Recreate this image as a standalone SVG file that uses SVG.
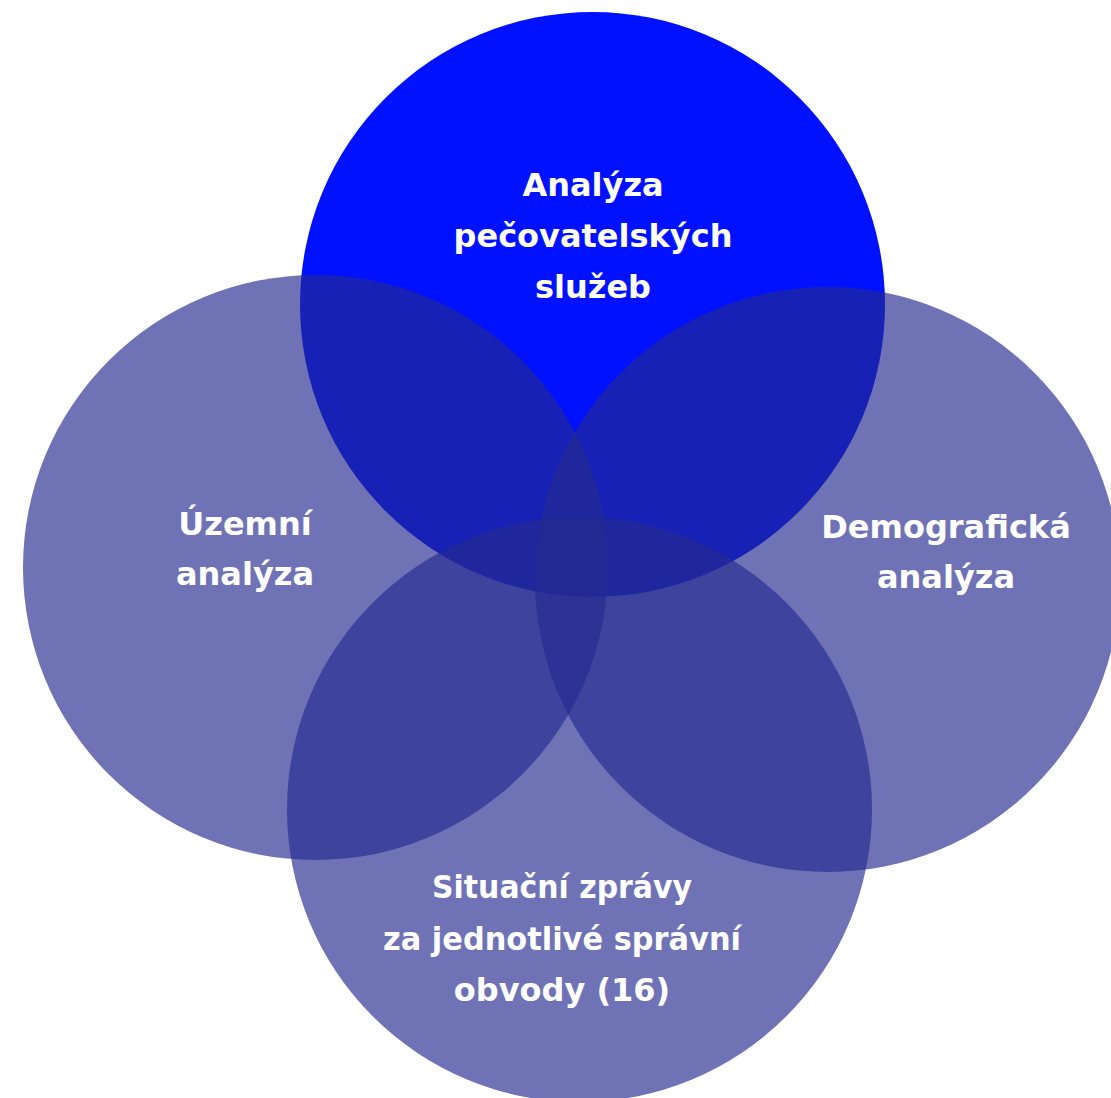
<svg xmlns="http://www.w3.org/2000/svg" width="1111" height="1098" viewBox="0 0 1111 1098">
<style>
.p{fill:#252B90;fill-opacity:0.657}
.t{fill:#FFFFFF;font-family:"DejaVu Sans","Liberation Sans",sans-serif;font-weight:bold;font-size:32px;text-anchor:middle}
</style>
<rect width="1111" height="1098" fill="#FFFFFF"/>
<g id="top">
<circle cx="592.5" cy="304.5" r="292.5" fill="#0011FF"/>
</g>
<g id="left">
<circle class="p" cx="315.5" cy="567.5" r="292.5"/>
</g>
<g id="right">
<circle class="p" cx="827.5" cy="579.5" r="292.5"/>
</g>
<g id="bottom">
<circle class="p" cx="579.5" cy="809.5" r="292.5"/>
</g>
<g id="labels">
<text class="t" x="593" y="196">Analýza</text>
<text class="t" x="593" y="247">pečovatelských</text>
<text class="t" x="593" y="298">služeb</text>
<text class="t" x="245" y="535">Územní</text>
<text class="t" x="245" y="585">analýza</text>
<text class="t" x="946" y="538">Demografická</text>
<text class="t" x="946" y="588">analýza</text>
<text class="t" x="562" y="898" textLength="260" lengthAdjust="spacingAndGlyphs">Situační zprávy</text>
<text class="t" x="562" y="950" textLength="358" lengthAdjust="spacingAndGlyphs">za jednotlivé správní</text>
<text class="t" x="562" y="1001">obvody (16)</text>
</g>
<g id="connectors"/>
</svg>
